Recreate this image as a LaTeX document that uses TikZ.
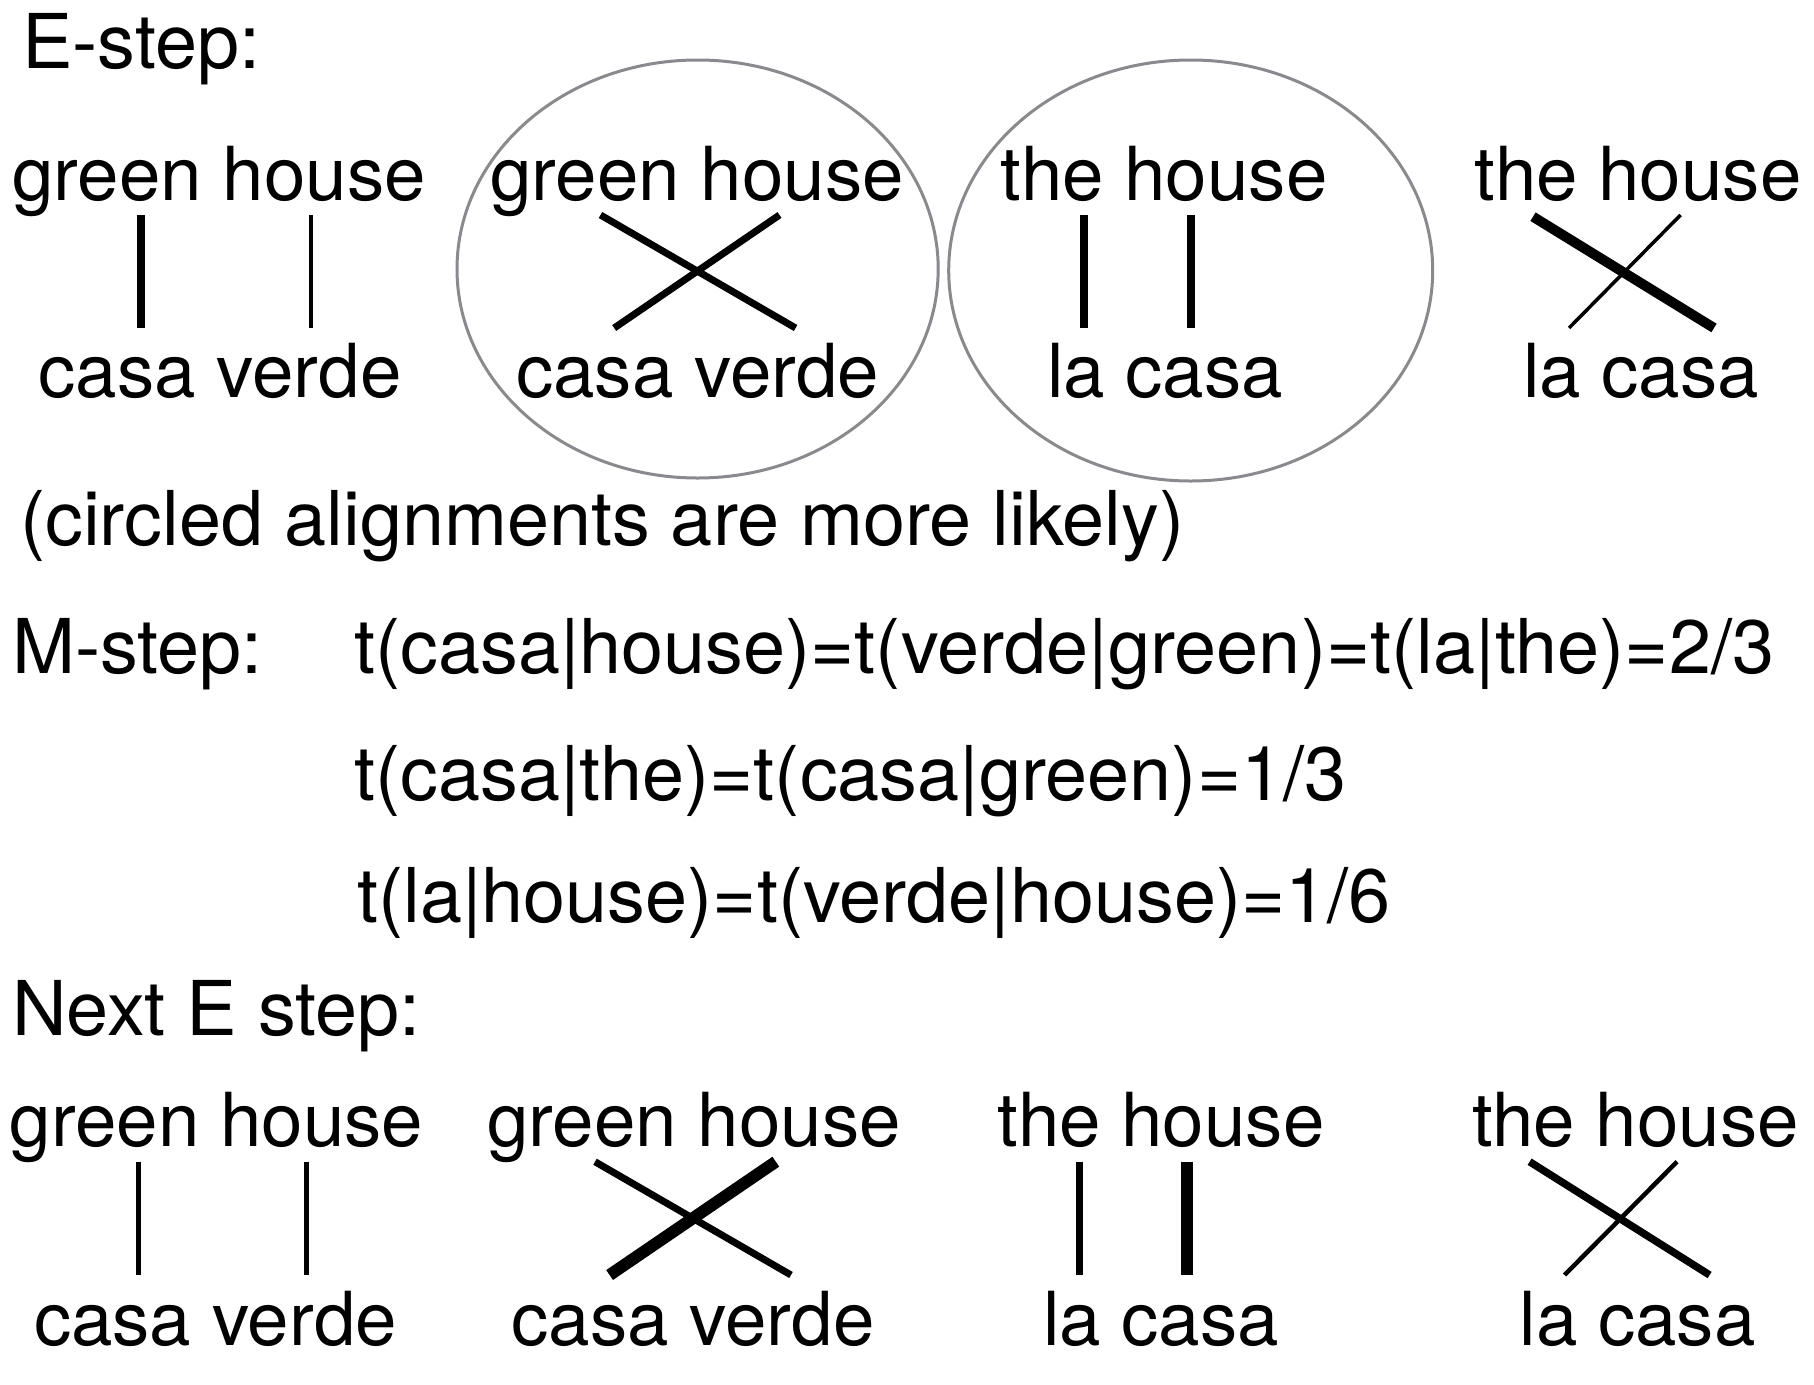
\documentclass[tikz,border=0pt]{standalone}
\usepackage{fontspec}
\setmainfont{TeX Gyre Heros}
\definecolor{ringgray}{RGB}{138,138,142}
\begin{document}
\begin{tikzpicture}[x=1pt,y=-1pt,
  txt/.style={inner sep=0pt, anchor=base, font=\fontsize{74.5}{80}\selectfont},
  ltxt/.style={inner sep=0pt, anchor=base west, font=\fontsize{75.6}{80}\selectfont},
  ring/.style={draw=ringgray, line width=3pt},
  link/.style={line cap=butt, draw=black}]
\useasboundingbox[fill=white] (0,0) rectangle (1814,1384);

% headings and formulas
\node[ltxt] (estep) at (22,68) {E-step:};
\node[ltxt] (note) at (20,545) {(circled alignments are more likely)};
\node[ltxt] (mstep) at (12,673) {M-step:};
\node[ltxt] (eqa) at (354,673) {t(casa|house)=t(verde|green)=t(la|the)=2/3};
\node[ltxt] (eqb) at (354,800) {t(casa|the)=t(casa|green)=1/3};
\node[ltxt] (eqc) at (357,922) {t(la|house)=t(verde|house)=1/6};
\node[ltxt] (nexte) at (12,1035) {Next E step:};

% row 1 words
\node[txt] (a1) at (219,200) {green house};
\node[txt] (a2) at (697,200) {green house};
\node[txt] (a3) at (1164,200) {the house};
\node[txt] (a4) at (1638,200) {the house};
\node[txt] (b1) at (220,397) {casa verde};
\node[txt] (b2) at (697.7,397) {casa verde};
\node[txt] (b3) at (1165,397) {la casa};
\node[txt] (b4) at (1641,397) {la casa};

% row 2 words
\node[txt] (c1) at (216.4,1146.7) {green house};
\node[txt] (c2) at (694,1146.7) {green house};
\node[txt] (c3) at (1161,1146.7) {the house};
\node[txt] (c4) at (1635.5,1146.7) {the house};
\node[txt] (d1) at (215.5,1345) {casa verde};
\node[txt] (d2) at (693,1345) {casa verde};
\node[txt] (d3) at (1161,1345) {la casa};
\node[txt] (d4) at (1637.5,1345) {la casa};

% circles
\draw[ring] (697.6,269) ellipse [x radius=240.6, y radius=209];
\draw[ring] (1190.7,270.5) ellipse [x radius=242, y radius=210.5];

% row 1 alignment end points
\coordinate (p1a) at (141,215);   \coordinate (q1a) at (141,328);
\coordinate (p1b) at (311,215);   \coordinate (q1b) at (311,328);
\coordinate (p2a) at (600.5,215); \coordinate (q2a) at (795.6,328);
\coordinate (p2b) at (779.5,215); \coordinate (q2b) at (614.2,328);
\coordinate (p3a) at (1084,215);  \coordinate (q3a) at (1084,328);
\coordinate (p3b) at (1190.6,215);\coordinate (q3b) at (1190.6,328);
\coordinate (p4a) at (1533,216.7);\coordinate (q4a) at (1714,328);
\coordinate (p4b) at (1680.5,215);\coordinate (q4b) at (1569,328);

\draw[link, line width=8pt] (p1a) -- (q1a);
\draw[link, line width=4pt] (p1b) -- (q1b);
\draw[link, line width=7pt] (p2a) -- (q2a);
\draw[link, line width=7pt] (p2b) -- (q2b);
\draw[link, line width=7.5pt] (p3a) -- (q3a);
\draw[link, line width=8pt] (p3b) -- (q3b);
\draw[link, line width=10pt] (p4a) -- (q4a);
\draw[link, line width=3.5pt] (p4b) -- (q4b);

% row 2 alignment end points
\coordinate (r1a) at (138.3,1161.7); \coordinate (s1a) at (138.3,1275);
\coordinate (r1b) at (306.6,1161.7); \coordinate (s1b) at (306.6,1275);
\coordinate (r2a) at (595,1161.7);   \coordinate (s2a) at (791,1275);
\coordinate (r2b) at (775.8,1161.7); \coordinate (s2b) at (609.6,1275);
\coordinate (r3a) at (1079.6,1161.7);\coordinate (s3a) at (1079.6,1275);
\coordinate (r3b) at (1186.8,1161.7);\coordinate (s3b) at (1186.8,1275);
\coordinate (r4a) at (1529.6,1161.7);\coordinate (s4a) at (1709.6,1275);
\coordinate (r4b) at (1677,1161.7);  \coordinate (s4b) at (1564.5,1275);

\draw[link, line width=5pt] (r1a) -- (s1a);
\draw[link, line width=4.5pt] (r1b) -- (s1b);
\draw[link, line width=7pt] (r2a) -- (s2a);
\draw[link, line width=12pt] (r2b) -- (s2b);
\draw[link, line width=7pt] (r3a) -- (s3a);
\draw[link, line width=12pt] (r3b) -- (s3b);
\draw[link, line width=7.5pt] (r4a) -- (s4a);
\draw[link, line width=4.5pt] (r4b) -- (s4b);
\end{tikzpicture}
\end{document}
